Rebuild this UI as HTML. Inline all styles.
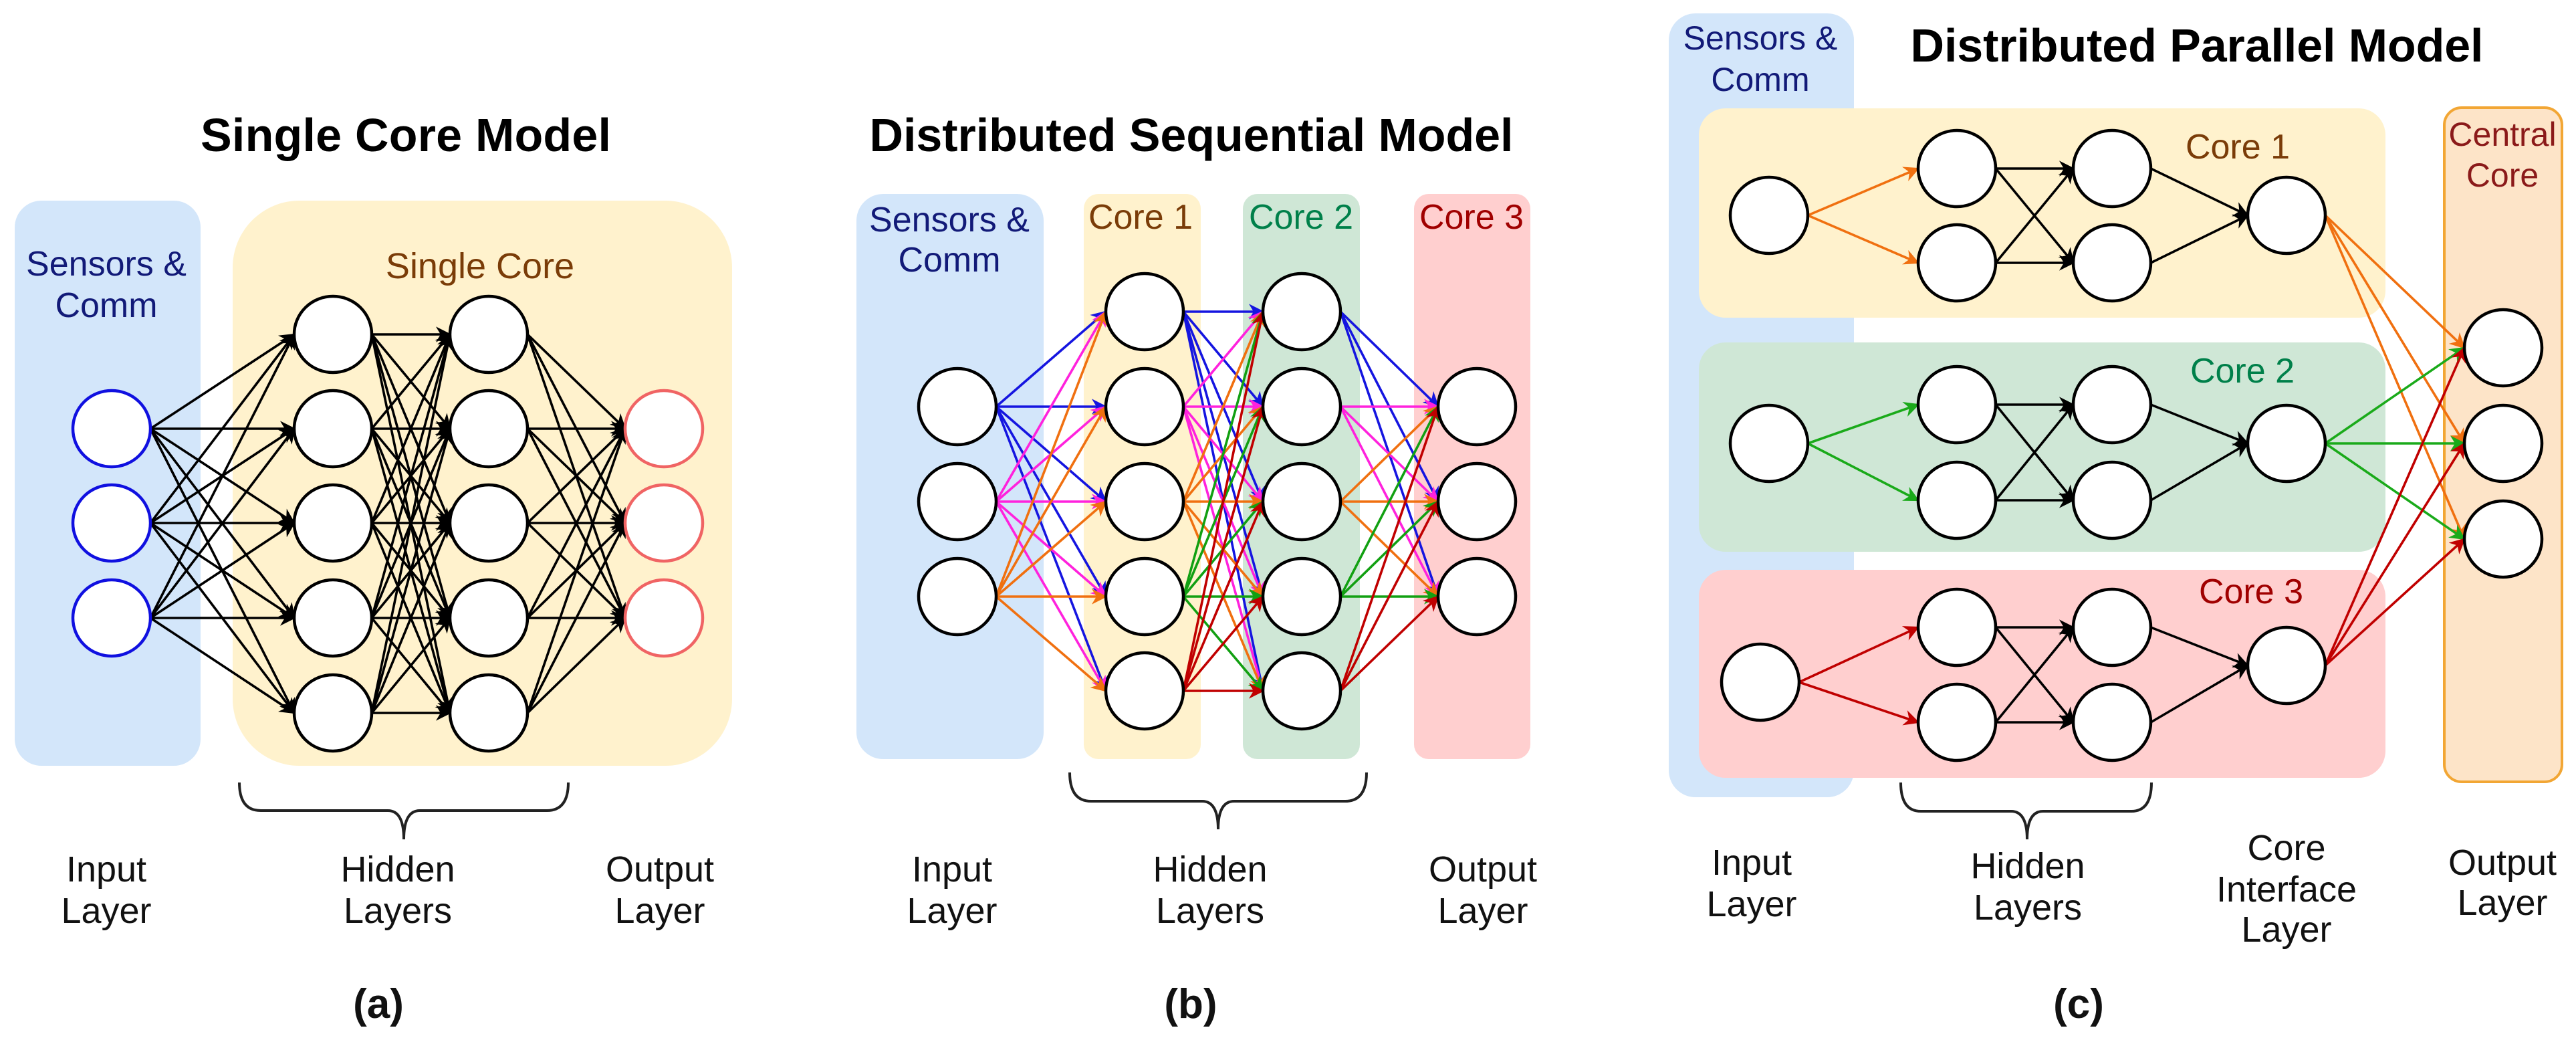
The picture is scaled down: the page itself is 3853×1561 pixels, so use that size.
<!DOCTYPE html>
<html><head><meta charset="utf-8"><style>
html,body{margin:0;padding:0;background:#fff}
svg{display:block}
text{font-family:"Liberation Sans",Arial,sans-serif}
.t{font-weight:bold;font-size:70px;fill:#000}
.l{font-size:54px;fill:#111}
.p{font-weight:bold;font-size:62px;fill:#111}
</style></head><body>
<svg id="s" width="3853" height="1561" viewBox="0 0 3853 1561" xmlns="http://www.w3.org/2000/svg">
<defs id="d"></defs>
<rect x="22" y="300" width="278" height="845" rx="40" fill="#d3e6fa"/>
<rect x="348" y="300" width="747" height="845" rx="100" fill="#fff2cd"/>
<text class="t" x="607" y="226" text-anchor="middle" textLength="614">Single Core Model</text>
<text x="159" y="412" text-anchor="middle" font-size="52" fill="#121a78">Sensors &amp;</text>
<text x="159" y="474" text-anchor="middle" font-size="52" fill="#121a78">Comm</text>
<text x="718" y="416" text-anchor="middle" font-size="54" fill="#7a3c08">Single Core</text>
<rect x="1281" y="290" width="280" height="845" rx="40" fill="#d3e6fa"/>
<rect x="1621" y="290" width="175" height="845" rx="22" fill="#fff2cd"/>
<rect x="1859" y="290" width="175" height="845" rx="22" fill="#cfe7d6"/>
<rect x="2115" y="290" width="174" height="845" rx="22" fill="#ffcfcf"/>
<text class="t" x="1782" y="226" text-anchor="middle" textLength="963">Distributed Sequential Model</text>
<text x="1420" y="346" text-anchor="middle" font-size="52" fill="#121a78">Sensors &amp;</text>
<text x="1420" y="406" text-anchor="middle" font-size="52" fill="#121a78">Comm</text>
<text x="1706" y="342" text-anchor="middle" font-size="52" fill="#7a3c08">Core 1</text>
<text x="1946" y="342" text-anchor="middle" font-size="52" fill="#00804a">Core 2</text>
<text x="2201" y="342" text-anchor="middle" font-size="52" fill="#a00000">Core 3</text>
<rect x="2496" y="20" width="277" height="1172" rx="40" fill="#d3e6fa"/>
<rect x="2541" y="162" width="1027" height="313" rx="40" fill="#fff2cd"/>
<rect x="2541" y="512" width="1027" height="313" rx="40" fill="#cfe7d6"/>
<rect x="2541" y="852" width="1027" height="311" rx="40" fill="#ffcfcf"/>
<rect x="3656" y="161" width="176" height="1008" rx="26" fill="#fde4c8" stroke="#f2a634" stroke-width="4"/>
<text class="t" x="3286" y="92" text-anchor="middle" textLength="857">Distributed Parallel Model</text>
<text x="2633" y="74" text-anchor="middle" font-size="50" fill="#121a78">Sensors &amp;</text>
<text x="2633" y="136" text-anchor="middle" font-size="50" fill="#121a78">Comm</text>
<text x="3743" y="218" text-anchor="middle" font-size="50" fill="#8b1a1a">Central</text>
<text x="3743" y="279" text-anchor="middle" font-size="50" fill="#8b1a1a">Core</text>
<text x="3347" y="237" text-anchor="middle" font-size="52" fill="#7a3c08">Core 1</text>
<text x="3354" y="572" text-anchor="middle" font-size="52" fill="#00804a">Core 2</text>
<text x="3367" y="902" text-anchor="middle" font-size="52" fill="#a00000">Core 3</text>
<g id="e"></g>
<g id="nodes"></g>
<g fill="none" stroke="#222" stroke-width="4">
<path d="M358 1170 Q358 1212 390 1212 L580 1212 Q604 1212 604 1255 Q604 1212 628 1212 L818 1212 Q850 1212 850 1170"/>
<path d="M1600 1155 Q1600 1198 1632 1198 L1798 1198 Q1822 1198 1822 1240 Q1822 1198 1846 1198 L2012 1198 Q2044 1198 2044 1155"/>
<path d="M2843 1170 Q2843 1213 2873 1213 L3008 1213 Q3032 1213 3032 1255 Q3032 1213 3056 1213 L3188 1213 Q3218 1213 3218 1170"/>
</g>
<g text-anchor="middle">
<text class="l" x="159" y="1318">Input</text><text class="l" x="159" y="1380">Layer</text>
<text class="l" x="595" y="1318">Hidden</text><text class="l" x="595" y="1380">Layers</text>
<text class="l" x="987" y="1318">Output</text><text class="l" x="987" y="1380">Layer</text>
<text class="l" x="1424" y="1318">Input</text><text class="l" x="1424" y="1380">Layer</text>
<text class="l" x="1810" y="1318">Hidden</text><text class="l" x="1810" y="1380">Layers</text>
<text class="l" x="2218" y="1318">Output</text><text class="l" x="2218" y="1380">Layer</text>
<text class="l" x="2620" y="1308">Input</text><text class="l" x="2620" y="1370">Layer</text>
<text class="l" x="3033" y="1313">Hidden</text><text class="l" x="3033" y="1375">Layers</text>
<text class="l" x="3420" y="1286">Core</text><text class="l" x="3420" y="1348">Interface</text><text class="l" x="3420" y="1408">Layer</text>
<text class="l" x="3743" y="1308">Output</text><text class="l" x="3743" y="1368">Layer</text>
</g>
<text class="p" x="566" y="1522" text-anchor="middle">(a)</text>
<text class="p" x="1781" y="1522" text-anchor="middle">(b)</text>
<text class="p" x="3109" y="1522" text-anchor="middle">(c)</text>
</svg>
<script>
(function(){
var NS="http://www.w3.org/2000/svg",d=document.getElementById("d"),E=document.getElementById("e"),N=document.getElementById("nodes");
var mk={};
function marker(c){if(mk[c])return mk[c];var id="m"+Object.keys(mk).length;var m=document.createElementNS(NS,"marker");
m.setAttribute("id",id);m.setAttribute("viewBox","0 0 10 10");m.setAttribute("refX","9");m.setAttribute("refY","5");
m.setAttribute("markerWidth","6.5");m.setAttribute("markerHeight","6.5");m.setAttribute("orient","auto");m.setAttribute("markerUnits","strokeWidth");
var p=document.createElementNS(NS,"path");p.setAttribute("d","M0,0 L10,5 L0,10 L3,5 z");p.setAttribute("fill",c);m.appendChild(p);d.appendChild(m);mk[c]=id;return id;}
var RX=58,RY=57;
function node(x,y,s){var e=document.createElementNS(NS,"ellipse");e.setAttribute("cx",x);e.setAttribute("cy",y);e.setAttribute("rx",RX);e.setAttribute("ry",RY);
e.setAttribute("fill","#fff");e.setAttribute("stroke",s||"#000");e.setAttribute("stroke-width","4.5");N.appendChild(e);}
function edge(x1,y1,x2,y2,c){var l=document.createElementNS(NS,"line");l.setAttribute("x1",x1+RX);l.setAttribute("y1",y1);l.setAttribute("x2",x2-RX);l.setAttribute("y2",y2);
l.setAttribute("stroke",c);l.setAttribute("stroke-width","3.6");l.setAttribute("marker-end","url(#"+marker(c)+")");E.appendChild(l);}
function full(xa,ya,xb,yb,cols){for(var i=0;i<ya.length;i++)for(var j=0;j<yb.length;j++)edge(xa,ya[i],xb,yb[j],cols?cols[i]:"#000");}
var I=[641,782,924],H=[500,641,782,924,1066];
full(167,I,498,H);full(498,H,731,H);full(731,H,993,I);
I.forEach(function(y){node(167,y,"#1010e0");});H.forEach(function(y){node(498,y);node(731,y);});I.forEach(function(y){node(993,y,"#f06464");});
var Ib=[608,750,892],Hb=[466,608,750,892,1033];
var C=["#1515e0","#ff22dd","#f07010","#12a012","#c00000"];
full(1432,Ib,1712,Hb,C);full(1712,Hb,1947,Hb,C);full(1947,Hb,2209,Ib,C);
Ib.forEach(function(y){node(1432,y);node(2209,y);});Hb.forEach(function(y){node(1712,y);node(1947,y);});
var cores=[{ix:2646,iy:322,h:[252,393],f:322,c:"#f07010"},{ix:2646,iy:663,h:[605,748],f:663,c:"#1aaa1a"},{ix:2633,iy:1020,h:[938,1080],f:995,c:"#c00000"}];
var O=[520,663,806];
cores.forEach(function(k){
 k.h.forEach(function(y){edge(k.ix,k.iy,2927,y,k.c);});
 full(2927,k.h,3159,k.h);
 k.h.forEach(function(y){edge(3159,y,3420,k.f,"#000");});
 O.forEach(function(y){edge(3420,k.f,3744,y,k.c);});
 node(k.ix,k.iy);k.h.forEach(function(y){node(2927,y);node(3159,y);});node(3420,k.f);
});
O.forEach(function(y){node(3744,y);});
})();
</script>
</body></html>
